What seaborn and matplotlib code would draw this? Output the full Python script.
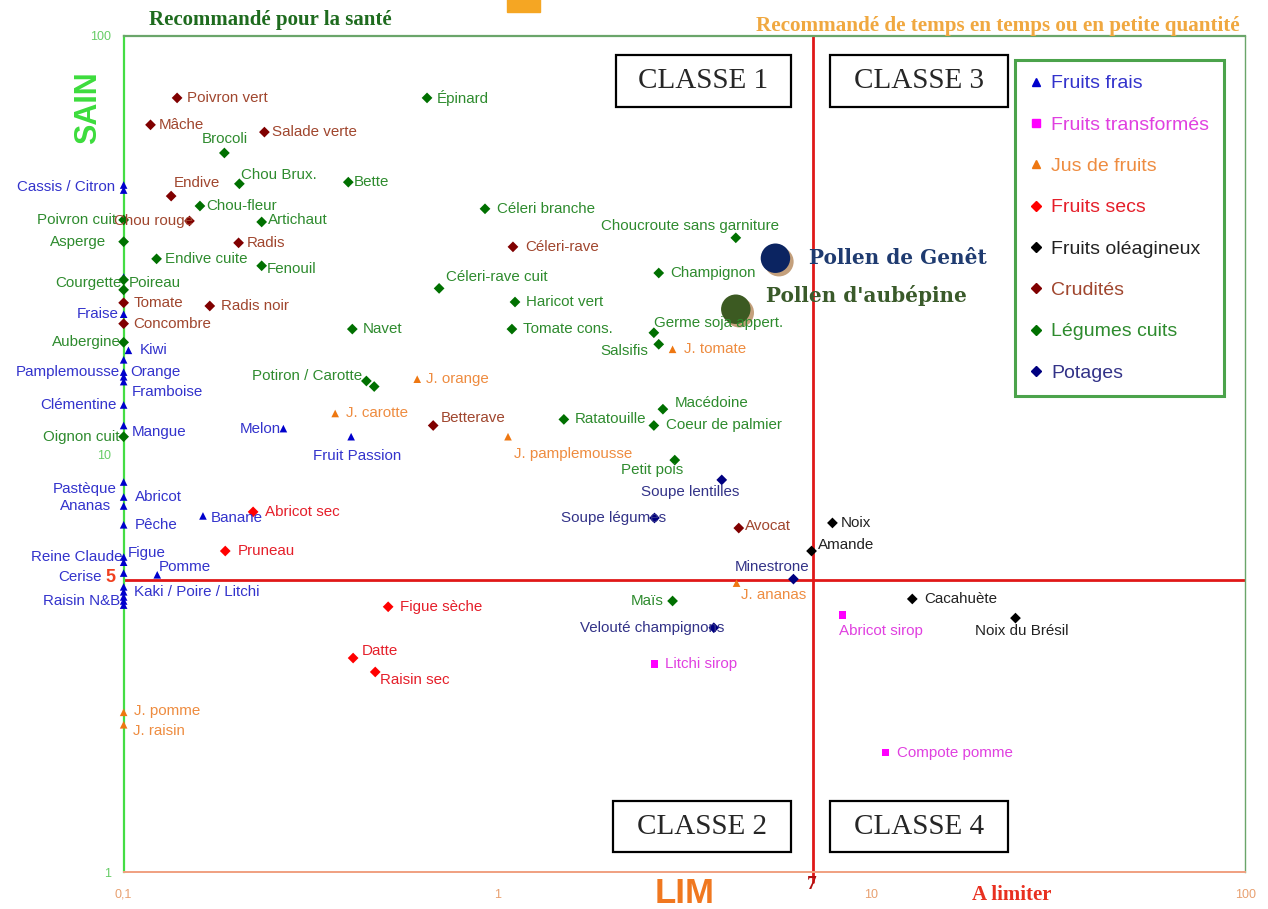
import matplotlib
matplotlib.use("Agg")
import matplotlib.pyplot as plt
import matplotlib.patheffects as pe
from matplotlib.lines import Line2D
from matplotlib.patches import Rectangle
from matplotlib.ticker import NullLocator
import pandas as pd
import seaborn as sns

# (label, LIM, SAIN) ; empty label = point without text
fruits_frais = [
    ("Cassis / Citron", 0.1, 44.0), ("", 0.1, 42.8), ("", 0.1, 26.5),
    ("Fraise", 0.1, 21.6), ("Kiwi", 0.103, 17.7), ("", 0.1, 16.8),
    ("Orange", 0.1, 15.7), ("Pamplemousse", 0.1, 15.3), ("Framboise", 0.1, 14.9),
    ("Clémentine", 0.1, 13.1), ("Mangue", 0.1, 11.7), ("Melon", 0.2675, 11.5),
    ("Fruit Passion", 0.406, 11.0), ("Pastèque", 0.1, 8.57), ("Abricot", 0.1, 7.89),
    ("Ananas", 0.1, 7.51), ("Pêche", 0.1, 6.77), ("Banane", 0.163, 7.11),
    ("Reine Claude", 0.1, 5.67), ("Figue", 0.1, 5.51), ("Cerise", 0.1, 5.19),
    ("Pomme", 0.123, 5.14), ("", 0.1, 4.81), ("Kaki / Poire / Litchi", 0.1, 4.68),
    ("", 0.1, 4.55), ("Raisin N&B", 0.1, 4.45), ("", 0.1, 4.35),
]
fruits_transformes = [
    ("Litchi sirop", 2.63, 3.15), ("Abricot sirop", 8.37, 4.12), ("Compote pomme", 10.9, 1.93),
]
jus_de_fruits = [
    ("J. orange", 0.610, 15.1), ("J. carotte", 0.368, 12.5), ("J. pamplemousse", 1.067, 11.0),
    ("J. tomate", 2.94, 17.8), ("J. ananas", 4.36, 4.91), ("J. pomme", 0.1, 2.41),
    ("J. raisin", 0.1, 2.25),
]
fruits_secs = [
    ("Abricot sec", 0.222, 7.27), ("Pruneau", 0.187, 5.86), ("Figue sèche", 0.510, 4.31),
    ("Datte", 0.411, 3.25), ("Raisin sec", 0.471, 3.01),
]
fruits_oleagineux = [
    ("Noix", 7.87, 6.84), ("Amande", 6.92, 5.86), ("Cacahuète", 12.87, 4.50),
    ("Noix du Brésil", 24.3, 4.05),
]
crudites = [
    ("Poivron vert", 0.139, 71.1), ("Mâche", 0.118, 61.3), ("Salade verte", 0.238, 58.9),
    ("Endive", 0.134, 41.4), ("Chou rouge", 0.150, 36.1), ("Radis", 0.203, 32.0),
    ("Radis noir", 0.170, 22.6), ("Tomate", 0.1, 23.0), ("Concombre", 0.1, 20.5),
    ("Céleri-rave", 1.10, 31.3), ("Betterave", 0.673, 11.7), ("Avocat", 4.42, 6.65),
]
legumes_cuits = [
    ("Épinard", 0.648, 71.1), ("Brocoli", 0.186, 52.5), ("Chou Brux.", 0.204, 44.3),
    ("Bette", 0.399, 44.7), ("Chou-fleur", 0.160, 39.2), ("Artichaut", 0.234, 35.9),
    ("Poivron cuit", 0.1, 36.3), ("Asperge", 0.1, 32.2), ("Endive cuite", 0.1225, 29.3),
    ("Fenouil", 0.234, 28.2), ("Courgette", 0.1, 26.1), ("Poireau", 0.1, 24.7),
    ("Céleri branche", 0.926, 38.6), ("Choucroute sans garniture", 4.34, 32.9),
    ("Céleri-rave cuit", 0.698, 24.9), ("Champignon", 2.70, 27.1),
    ("Haricot vert", 1.114, 23.1), ("Tomate cons.", 1.093, 19.9), ("Navet", 0.409, 19.9),
    ("Germe soja appert.", 2.62, 19.5), ("Salsifis", 2.70, 18.3),
    ("Potiron / Carotte", 0.446, 14.95), ("", 0.468, 14.5), ("Aubergine", 0.1, 18.5),
    ("Oignon cuit", 0.1, 11.0), ("Ratatouille", 1.505, 12.1), ("Macédoine", 2.77, 12.8),
    ("Coeur de palmier", 2.62, 11.7), ("Petit pois", 2.98, 9.67), ("Maïs", 2.94, 4.45),
]
potages = [
    ("Soupe lentilles", 3.98, 8.67), ("Soupe légumes", 2.63, 7.03),
    ("Minestrone", 6.19, 5.02), ("Velouté champignons", 3.79, 3.84),
]
pollens = [("Pollen de Genêt", 5.54, 29.4), ("Pollen d'aubépine", 4.34, 22.2)]

categories = {
    "Fruits frais": fruits_frais,
    "Fruits transformés": fruits_transformes,
    "Jus de fruits": jus_de_fruits,
    "Fruits secs": fruits_secs,
    "Fruits oléagineux": fruits_oleagineux,
    "Crudités": crudites,
    "Légumes cuits": legumes_cuits,
    "Potages": potages,
}

marker_colors = {
    "Fruits frais": "#0000CC", "Fruits transformés": "#FF00FF", "Jus de fruits": "#EE7711",
    "Fruits secs": "#FF0000", "Fruits oléagineux": "#000000", "Crudités": "#800000",
    "Légumes cuits": "#007000", "Potages": "#000080",
}
label_colors = {
    "Fruits frais": "#3333CC", "Fruits transformés": "#E040E0", "Jus de fruits": "#EE8C40",
    "Fruits secs": "#E51F2A", "Fruits oléagineux": "#222222", "Crudités": "#A0462E",
    "Légumes cuits": "#2E8B2E", "Potages": "#333388",
}
markers = {c: "D" for c in categories}
markers["Fruits frais"] = "^"
markers["Jus de fruits"] = "^"
markers["Fruits transformés"] = "s"

# text placement relative to the point, in pixels: (dx, dy, ha)
label_offsets = {
    "Poivron vert": (10, 0, "left"), "Endive": (3, 13, "left"), "Chou rouge": (4, 0, "right"),
    "Radis noir": (11, 0, "left"), "Tomate": (10, 0, "left"), "Concombre": (10, 0, "left"),
    "Céleri-rave": (12, 0, "left"), "Betterave": (8, 7, "left"), "Avocat": (6, 2, "left"),
    "Épinard": (10, 0, "left"), "Brocoli": (0, 14, "center"), "Chou Brux.": (2, 9, "left"),
    "Bette": (5, 0, "left"), "Chou-fleur": (6, 0, "left"), "Artichaut": (6, 2, "left"),
    "Poivron cuit": (-8, 0, "right"), "Asperge": (-18, 0, "right"), "Fenouil": (5, -3, "left"),
    "Courgette": (-2, -3, "right"), "Poireau": (5, 7, "left"), "Céleri branche": (12, 0, "left"),
    "Choucroute sans garniture": (43, 12, "right"), "Céleri-rave cuit": (7, 11, "left"),
    "Champignon": (12, 0, "left"), "Haricot vert": (11, 0, "left"), "Tomate cons.": (11, 0, "left"),
    "Navet": (10, 0, "left"), "Germe soja appert.": (0, 10, "left"), "Salsifis": (-11, -7, "right"),
    "Potiron / Carotte": (-4, 5, "right"), "Aubergine": (-3, 0, "right"),
    "Oignon cuit": (-4, 0, "right"), "Ratatouille": (11, 0, "left"), "Macédoine": (12, 6, "left"),
    "Coeur de palmier": (12, 0, "left"), "Petit pois": (8, -10, "right"), "Maïs": (-9, 0, "right"),
    "Cassis / Citron": (-9, -2, "right"), "Fraise": (-5, 0, "right"), "Kiwi": (11, 0, "left"),
    "Orange": (7, 0, "left"), "Pamplemousse": (-4, 5, "right"), "Framboise": (8, -10, "left"),
    "Clémentine": (-7, 0, "right"), "Mangue": (8, -7, "left"), "Melon": (-3, 0, "right"),
    "Fruit Passion": (6, -19, "center"), "Pastèque": (-7, -7, "right"), "Abricot": (11, 0, "left"),
    "Ananas": (-13, 0, "right"), "Pêche": (11, 0, "left"), "Banane": (8, -2, "left"),
    "Reine Claude": (-1, 0, "right"), "Figue": (4, 9, "left"), "Cerise": (-22, -4, "right"),
    "Pomme": (2, 8, "left"), "Kaki / Poire / Litchi": (10, 0, "left"),
    "Raisin N&B": (-3, 0, "right"), "J. orange": (9, 0, "left"), "J. carotte": (11, 0, "left"),
    "J. pamplemousse": (6, -17, "left"), "J. tomate": (11, 0, "left"), "J. ananas": (4, -12, "left"),
    "J. pomme": (10, 1, "left"), "J. raisin": (9, -6, "left"), "Abricot sec": (12, 0, "left"),
    "Pruneau": (12, 0, "left"), "Figue sèche": (12, 0, "left"), "Datte": (9, 7, "left"),
    "Raisin sec": (5, -8, "left"), "Noix": (8, 0, "left"), "Amande": (6, 6, "left"),
    "Cacahuète": (12, 0, "left"), "Noix du Brésil": (6, -13, "center"),
    "Soupe lentilles": (18, -12, "right"), "Soupe légumes": (12, 0, "right"),
    "Minestrone": (16, 12, "right"), "Velouté champignons": (11, 0, "right"),
    "Litchi sirop": (11, 0, "left"), "Abricot sirop": (-3, -16, "left"),
    "Compote pomme": (12, 0, "left"),
}

rows = []
for cat, items in categories.items():
    for lab, x, y in items:
        rows.append({"label": lab, "lim": x, "sain": y, "cat": cat})
df = pd.DataFrame(rows)
pollen_df = pd.DataFrame(pollens, columns=["label", "lim", "sain"])

sns.set_style("white")
plt.rcParams["font.family"] = ["Liberation Sans", "DejaVu Sans"]

fig = plt.figure(figsize=(12.68, 9.09), dpi=100)
ax = fig.add_axes([0.0975, 0.0407, 0.8845, 0.9197])

ax.axvline(7, ymin=-0.012, ymax=1, color="#E01818", lw=2, zorder=2, clip_on=False)
ax.axhline(5, color="#E01818", lw=2, zorder=2)

sns.scatterplot(data=df, x="lim", y="sain", hue="cat", style="cat",
                palette=marker_colors, markers=markers, s=30, linewidth=0,
                legend=False, clip_on=False, zorder=4, ax=ax)

sns.scatterplot(data=pollen_df, x="lim", y="sain", hue="label",
                palette=["#0B2461", "#3C5A22"], s=450, linewidth=0, legend=False,
                zorder=5, ax=ax,
                path_effects=[pe.SimplePatchShadow(offset=(2.5, -2.5), shadow_rgbFace="#C4A07C", alpha=1),
                              pe.Normal()])

for r in df.itertuples():
    if not r.label:
        continue
    dx, dy, ha = label_offsets.get(r.label, (8, 0, "left"))
    ax.annotate(r.label, (r.lim, r.sain), xytext=(dx, dy), textcoords="offset pixels",
                ha=ha, va="center", fontsize=10.9, color=label_colors[r.cat],
                annotation_clip=False, zorder=6)

pollen_text = {"Pollen de Genêt": ((34, 0), "#1F3B70"), "Pollen d'aubépine": ((30, 14), "#3A5A2A")}
for r in pollen_df.itertuples():
    off, col = pollen_text[r.label]
    ax.annotate(r.label, (r.lim, r.sain), xytext=off, textcoords="offset pixels",
                ha="left", va="center", fontsize=14.4, fontweight="bold", color=col,
                family="DejaVu Serif", zorder=6)

ax.set_xscale("log")
ax.set_yscale("log")
ax.set_xlim(0.1, 100)
ax.set_ylim(1, 100)
ax.set_xticks([0.1, 1, 10, 100])
ax.set_xticklabels(["0,1", "1", "10", "100"])
ax.set_yticks([1, 10, 100])
ax.set_yticklabels(["1", "10", "100"])
ax.xaxis.set_minor_locator(NullLocator())
ax.yaxis.set_minor_locator(NullLocator())
ax.tick_params(axis="x", colors="#E8A070", direction="in", length=5, pad=12, labelsize=9)
ax.tick_params(axis="y", colors="#66CC66", direction="out", length=4, pad=5, labelsize=9)
ax.set_xlabel("")
ax.set_ylabel("")

ax.spines["left"].set_color("#44DD44")
ax.spines["left"].set_linewidth(1.6)
ax.spines["top"].set_color("#6AA56A")
ax.spines["top"].set_linewidth(1.6)
ax.spines["right"].set_color("#6AA56A")
ax.spines["right"].set_linewidth(1.0)
ax.spines["bottom"].set_color("#F0A080")
ax.spines["bottom"].set_linewidth(1.4)

legend_order = list(categories)
handles = [Line2D([], [], marker=markers[c], color=marker_colors[c], ls="none",
                  markersize=6 if markers[c] != "D" else 5, label=c) for c in legend_order]
leg = ax.legend(handles=handles, loc="upper left", bbox_to_anchor=(0.795, 0.971),
                frameon=True, fancybox=False, edgecolor="#1E8C1E", fontsize=14,
                labelspacing=1.22, handlelength=0.6, handletextpad=0.5,
                borderpad=0.75, borderaxespad=0)
leg.get_frame().set_linewidth(2.2)
for t, c in zip(leg.get_texts(), legend_order):
    t.set_color(label_colors[c])

# frame annotations
fig.text(0.0694, 0.882, "SAIN", rotation=90, color="#3CDC3C", fontsize=22,
         fontweight="bold", ha="center", va="center")
fig.text(0.540, 0.0176, "LIM", color="#F07820", fontsize=25, fontweight="bold",
         ha="center", va="center")
fig.text(0.798, 0.0154, "A limiter", color="#E83020", fontsize=15, fontweight="bold",
         ha="center", va="center", family="Liberation Serif")
fig.text(0.640, 0.0275, "7", color="#B01010", fontsize=14, fontweight="bold",
         ha="center", va="center", family="Liberation Serif")
fig.text(0.0868, 0.365, "5", color="#F04020", fontsize=13, fontweight="bold",
         ha="center", va="center")
fig.text(0.213, 0.978, "Recommandé pour la santé", color="#1E6B1E", fontsize=15,
         fontweight="bold", ha="center", va="center", family="Liberation Serif")
fig.text(0.978, 0.971, "Recommandé de temps en temps ou en petite quantité", color="#F0A840",
         fontsize=15.2, fontweight="bold", ha="right", va="center", family="Liberation Serif")
fig.add_artist(Rectangle((0.400, 0.987), 0.026, 0.014, transform=fig.transFigure,
                         color="#F5A623"))

class_boxes = [("CLASSE 1", 0.4858, 0.8823, 0.1380, 0.0572),
               ("CLASSE 3", 0.6546, 0.8823, 0.1404, 0.0572),
               ("CLASSE 2", 0.4834, 0.0627, 0.1404, 0.0561),
               ("CLASSE 4", 0.6546, 0.0627, 0.1404, 0.0561)]
for txt, x0, y0, w, h in class_boxes:
    fig.add_artist(Rectangle((x0, y0), w, h, transform=fig.transFigure, fill=False,
                             ec="black", lw=1.6))
    fig.text(x0 + w / 2, y0 + h / 2, txt, fontsize=21, ha="center", va="center",
             family="Liberation Serif")

fig.savefig("out.png", dpi=100)
